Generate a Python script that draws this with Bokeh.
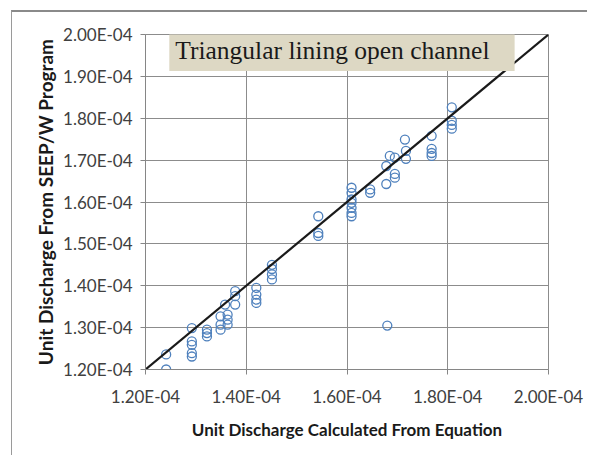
from bokeh.plotting import figure
from bokeh.models import Label, Range1d, FixedTicker, Segment, ColumnDataSource
from bokeh.embed import file_html
from bokeh.resources import INLINE

# Data (unit discharge, m2/s)
x_equation = [1.241e-4, 1.241e-4,
              1.292e-4, 1.292e-4, 1.292e-4, 1.292e-4, 1.292e-4,
              1.322e-4, 1.322e-4, 1.322e-4,
              1.349e-4, 1.349e-4, 1.349e-4,
              1.358e-4, 1.363e-4, 1.363e-4, 1.363e-4,
              1.378e-4, 1.378e-4, 1.378e-4,
              1.420e-4, 1.420e-4, 1.420e-4, 1.420e-4,
              1.451e-4, 1.451e-4, 1.451e-4, 1.451e-4,
              1.543e-4, 1.543e-4, 1.543e-4,
              1.609e-4, 1.609e-4, 1.609e-4, 1.609e-4, 1.609e-4, 1.609e-4, 1.609e-4,
              1.646e-4, 1.646e-4,
              1.678e-4, 1.678e-4, 1.680e-4,
              1.685e-4, 1.695e-4, 1.695e-4, 1.695e-4,
              1.715e-4, 1.717e-4, 1.717e-4,
              1.768e-4, 1.768e-4, 1.768e-4, 1.768e-4,
              1.808e-4, 1.808e-4, 1.808e-4, 1.808e-4]
y_seepw = [1.236e-4, 1.200e-4,
           1.299e-4, 1.267e-4, 1.259e-4, 1.239e-4, 1.231e-4,
           1.295e-4, 1.287e-4, 1.279e-4,
           1.327e-4, 1.307e-4, 1.295e-4,
           1.355e-4, 1.331e-4, 1.319e-4, 1.307e-4,
           1.387e-4, 1.375e-4, 1.355e-4,
           1.395e-4, 1.379e-4, 1.367e-4, 1.359e-4,
           1.450e-4, 1.440e-4, 1.427e-4, 1.415e-4,
           1.566e-4, 1.526e-4, 1.519e-4,
           1.634e-4, 1.622e-4, 1.606e-4, 1.598e-4, 1.586e-4, 1.574e-4, 1.566e-4,
           1.630e-4, 1.622e-4,
           1.686e-4, 1.643e-4, 1.305e-4,
           1.710e-4, 1.706e-4, 1.667e-4, 1.658e-4,
           1.749e-4, 1.722e-4, 1.703e-4,
           1.758e-4, 1.727e-4, 1.717e-4, 1.710e-4,
           1.826e-4, 1.794e-4, 1.784e-4, 1.775e-4]

x_ticks = [1.2e-4, 1.4e-4, 1.6e-4, 1.8e-4, 2.0e-4]
x_tick_labels = ["1.20E-04", "1.40E-04", "1.60E-04", "1.80E-04", "2.00E-04"]
y_ticks = [1.2e-4, 1.3e-4, 1.4e-4, 1.5e-4, 1.6e-4, 1.7e-4, 1.8e-4, 1.9e-4, 2.0e-4]
y_tick_labels = ["1.20E-04", "1.30E-04", "1.40E-04", "1.50E-04", "1.60E-04",
                 "1.70E-04", "1.80E-04", "1.90E-04", "2.00E-04"]
line_start = [1.2e-4, 1.2e-4]
line_end = [2.0e-4, 2.0e-4]
title_text = "Triangular  lining  open  channel"

p = figure(width=576, height=445, output_backend="svg", toolbar_location=None,
           x_range=Range1d(x_ticks[0], x_ticks[-1]), y_range=Range1d(y_ticks[0], y_ticks[-1]),
           min_border_left=133, min_border_right=40, min_border_top=22, min_border_bottom=88,
           background_fill_color="white", border_fill_color="white")
p.styles = {"margin-left": "11px", "margin-top": "10px",
            "border-left": "1px solid #9a9a9a", "border-top": "2px solid #8a8a8a"}

p.outline_line_color = "#8c8c8c"
for g in (p.xgrid, p.ygrid):
    g.grid_line_color = "#8c8c8c"
    g.grid_line_width = 1
p.xaxis.ticker = FixedTicker(ticks=x_ticks)
p.yaxis.ticker = FixedTicker(ticks=y_ticks)
p.xgrid.ticker = FixedTicker(ticks=x_ticks)
p.ygrid.ticker = FixedTicker(ticks=y_ticks)
p.xaxis.major_label_overrides = dict(zip(x_ticks, x_tick_labels))
p.yaxis.major_label_overrides = dict(zip(y_ticks, y_tick_labels))

for ax in (p.xaxis, p.yaxis):
    ax.axis_line_color = "#868686"
    ax.major_tick_line_color = "#868686"
    ax.major_tick_out = 5
    ax.major_tick_in = 0
    ax.minor_tick_line_color = None
    ax.major_label_text_font = "Lato"
    ax.major_label_text_font_size = "17px"
    ax.major_label_text_color = "#404040"
    ax.axis_label_text_font = "Lato"
    ax.axis_label_text_font_style = "bold"
    ax.axis_label_text_color = "#1a1a1a"
p.xaxis.axis_label_text_font_size = "17px"
p.yaxis.axis_label_text_font_size = "19px"
p.xaxis.major_label_standoff = 11
p.yaxis.major_label_standoff = 8
p.xaxis.axis_label_standoff = 9
p.yaxis.axis_label_standoff = 3
p.xaxis.axis_label = "Unit Discharge Calculated From Equation"
p.yaxis.axis_label = "Unit Discharge From SEEP/W Program"

src = ColumnDataSource(dict(x=x_equation, y=y_seepw))
p.scatter("x", "y", source=src, size=9, marker="circle", fill_color=None,
          line_color="#4f81bd", line_width=1.3)

seg = ColumnDataSource(dict(x0=[line_start[0]], y0=[line_start[1]], x1=[line_end[0]], y1=[line_end[1]]))
p.add_glyph(seg, Segment(x0="x0", y0="y0", x1="x1", y1="y1", line_color="#1a1a1a", line_width=2.2))

p.add_layout(Label(x=1.59e-4, y=1.962e-4, text=title_text, text_align="center",
                   text_baseline="middle", text_font="Liberation Serif", text_font_size="25.5px",
                   text_color="#1a1a1a", background_fill_color="#ddd8c4",
                   padding=6))

open("out.html", "w").write(file_html(p, INLINE))
